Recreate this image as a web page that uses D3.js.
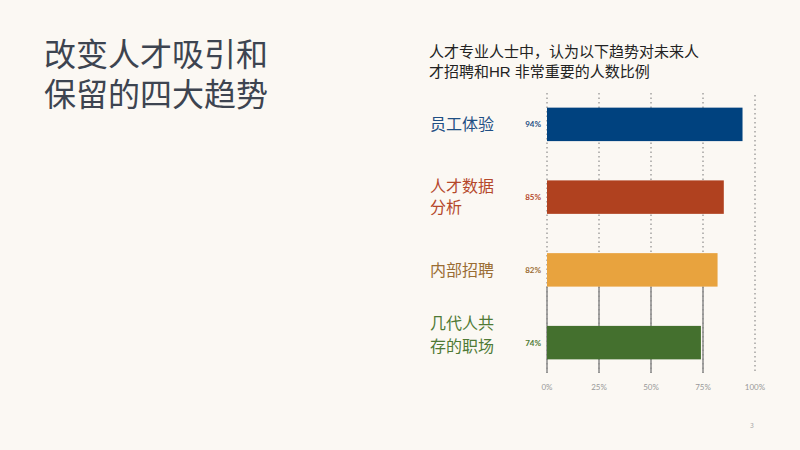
<!DOCTYPE html>
<html><head><meta charset="utf-8">
<script src="https://cdn.jsdelivr.net/npm/d3@7"></script>
<style>
html,body{margin:0;padding:0;background:#fbf8f3;}
svg{display:block;font-family:"Noto Sans CJK SC","Noto Sans",sans-serif;}
</style></head><body>
<svg id="c" width="800" height="450"></svg>
<script>
const categories = [["员工体验"], ["人才数据", "分析"], ["内部招聘"], ["几代人共", "存的职场"]];
const values = [94, 85, 82, 74];
const valueLabels = ["94%", "85%", "82%", "74%"];
const barColors = ["#00427f", "#b0411f", "#e8a33e", "#44702e"];
const labelColors = ["#1f4f84", "#b5482b", "#9a6d33", "#4f7a35"];
const tickValues = [0, 25, 50, 75, 100];
const tickLabels = ["0%", "25%", "50%", "75%", "100%"];
const titleLines = ["改变人才吸引和", "保留的四大趋势"];
const subtitleLines = ["人才专业人士中，认为以下趋势对未来人", "才招聘和HR 非常重要的人数比例"];

const svg = d3.select("#c");
svg.append("rect").attr("width",800).attr("height",450).attr("fill","#fbf8f3");

// Title
svg.append("g").selectAll("text").data(titleLines).join("text")
  .attr("x",44).attr("y",(d,i)=>66+i*40)
  .attr("font-family","'Liberation Sans','Noto Sans CJK SC',sans-serif")
  .attr("font-size",32).attr("fill","#3d4450").text(d=>d);

// Subtitle
svg.append("g").selectAll("text").data(subtitleLines).join("text")
  .attr("x",429).attr("y",(d,i)=>57+i*20)
  .attr("font-family","'Liberation Sans','Noto Sans CJK SC',sans-serif")
  .attr("font-size",15).attr("fill","#222").text(d=>d);

const x = d3.scaleLinear().domain([0,100]).range([547,755]);
const y = d3.scaleBand().domain(d3.range(values.length)).range([88,379]).paddingInner(0.54).paddingOuter(0.27);

const gridTop = 93, gridBottom = 373;
// dotted gridlines
svg.append("g").selectAll("line").data(tickValues).join("line")
  .attr("x1",d=>x(d)).attr("x2",d=>x(d))
  .attr("y1",d=>d===100?95:gridTop).attr("y2",gridBottom)
  .attr("stroke","#777").attr("stroke-width",1).attr("stroke-dasharray","1.5,3");
// solid segments below third bar
svg.append("g").selectAll("line").data(tickValues.filter(d=>d<100)).join("line")
  .attr("x1",d=>x(d)).attr("x2",d=>x(d))
  .attr("y1",y(2)+y.bandwidth()).attr("y2",gridBottom)
  .attr("stroke","#8a8a8a").attr("stroke-width",1.5);

// bars
svg.append("g").selectAll("rect").data(values).join("rect")
  .attr("x",x(0)).attr("y",(d,i)=>y(i))
  .attr("width",d=>x(d)-x(0)).attr("height",y.bandwidth())
  .attr("fill",(d,i)=>barColors[i]);

// value labels
svg.append("g").selectAll("text").data(valueLabels).join("text")
  .attr("x",541).attr("y",(d,i)=>y(i)+y.bandwidth()/2+3)
  .attr("text-anchor","end").attr("font-size",8).attr("font-weight","bold")
  .attr("font-family","Lato, 'Noto Sans', sans-serif")
  .attr("fill",(d,i)=>labelColors[i]).text(d=>d);

// category labels
const cg = svg.append("g");
const labelLayout = [{lh:0,off:0},{lh:21,off:-1},{lh:0,off:0},{lh:23,off:-8}];
categories.forEach((lines,i)=>{
  const cy = y(i)+y.bandwidth()/2;
  const {lh,off} = labelLayout[i];
  lines.forEach((t,j)=>{
    cg.append("text").attr("x",430)
      .attr("y",cy + 6 + off + (j-(lines.length-1)/2)*lh)
      .attr("font-family","'Liberation Sans','Noto Sans CJK SC',sans-serif")
      .attr("font-size",16).attr("fill",labelColors[i]).text(t);
  });
});

// x axis tick labels
svg.append("g").selectAll("text").data(tickValues).join("text")
  .attr("x",d=>x(d)).attr("y",390).attr("text-anchor","middle")
  .attr("font-size",8).attr("fill","#999")
  .attr("font-family","Lato, 'Noto Sans', sans-serif")
  .text((d,i)=>tickLabels[i]);

// page number
svg.append("text").attr("x",752).attr("y",428).attr("text-anchor","middle")
  .attr("font-size",7).attr("fill","#aaa").text("3");
</script>
</body></html>
